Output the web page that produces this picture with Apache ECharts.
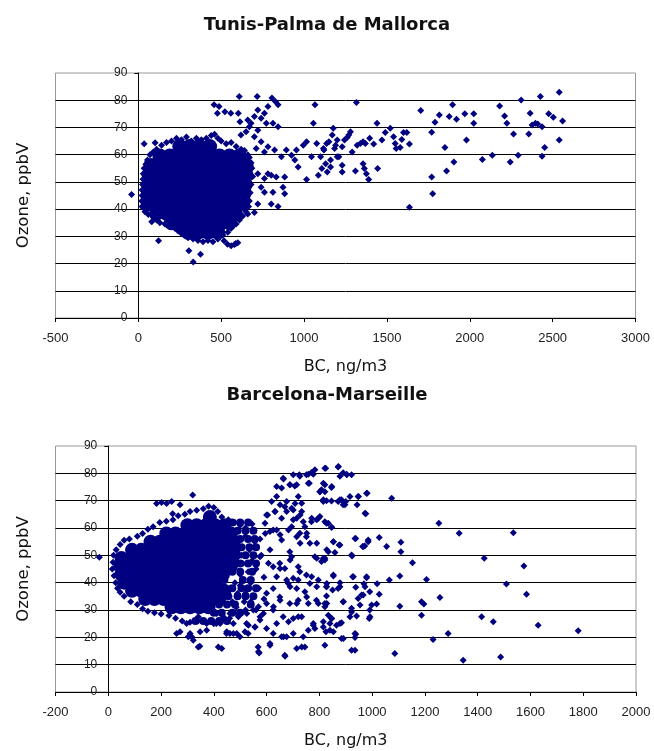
<!DOCTYPE html>
<html>
<head>
<meta charset="utf-8">
<script src="https://cdn.jsdelivr.net/npm/echarts@6/dist/echarts.min.js"></script>
<style>
  html, body { margin: 0; padding: 0; background: #fff; }
  #chart { width: 654px; height: 751px; }
</style>
</head>
<body>
<div id="chart"></div>
<script>
// Axis ranges [min, max, interval]
const topXRange = [-500, 3000, 500];
const bottomXRange = [-200, 2000, 200];
const ozoneRange = [0, 90, 10];

const titles = ['Tunis-Palma de Mallorca', 'Barcelona-Marseille'];
const xName = 'BC, ng/m3';
const yName = 'Ozone, ppbV';

// Tunis-Palma: dense core of the cloud (BC ng/m3, ozone ppbV)
const tunisCore = [
  [250, 63], [310, 63], [370, 63], [430, 63],
  [130, 59.5], [190, 59.5], [250, 59.5], [310, 59.5], [370, 59.5], [430, 59.5], [490, 59.5], [550, 59.5], [610, 59.5],
  [80, 56], [140, 56], [200, 56], [260, 56], [320, 56], [380, 56], [440, 56], [500, 56], [560, 56], [620, 56], [650, 56],
  [65, 52.5], [125, 52.5], [185, 52.5], [245, 52.5], [305, 52.5], [365, 52.5], [425, 52.5], [485, 52.5], [545, 52.5], [605, 52.5], [650, 52.5],
  [65, 49], [125, 49], [185, 49], [245, 49], [305, 49], [365, 49], [425, 49], [485, 49], [545, 49], [605, 49], [645, 49],
  [60, 45.5], [120, 45.5], [180, 45.5], [240, 45.5], [300, 45.5], [360, 45.5], [420, 45.5], [480, 45.5], [540, 45.5], [600, 45.5], [635, 45.5],
  [65, 42], [125, 42], [185, 42], [245, 42], [305, 42], [365, 42], [425, 42], [485, 42], [545, 42], [605, 42], [625, 42],
  [110, 38.5], [170, 38.5], [230, 38.5], [290, 38.5], [350, 38.5], [410, 38.5], [470, 38.5], [530, 38.5], [585, 38.5],
  [200, 35], [260, 35], [320, 35], [380, 35], [440, 35], [500, 35], [550, 35],
  [300, 31.5], [360, 31.5], [420, 31.5], [480, 31.5]
];

// Tunis-Palma: individual points
const tunisPoints = [
  // rim of the cloud
  [90, 61], [110, 62], [140, 63.5], [170, 64.5], [200, 65], [230, 66], [260, 65.5], [290, 66.5], [320, 65], [350, 66],
  [380, 65.5], [410, 66], [440, 67], [460, 67.5], [480, 66], [500, 65], [530, 64], [560, 64.5], [590, 63], [620, 62],
  [640, 61.5], [660, 60],
  [70, 60], [55, 58], [45, 56.5], [35, 55], [30, 53], [28, 51], [25, 49], [22, 47], [22, 45], [20, 43], [22, 41], [30, 40.5],
  [40, 39], [60, 38], [90, 37], [110, 36], [130, 35], [160, 34.5], [190, 33.5], [220, 33], [240, 32], [260, 31],
  [280, 30.5], [300, 29.5], [330, 29], [360, 28.5], [390, 28], [420, 28.5], [450, 28], [480, 29], [510, 30.5],
  [540, 31.5], [560, 33], [590, 34.5], [610, 36], [630, 37.5], [650, 39],
  [665, 41], [670, 43], [675, 46], [680, 49], [690, 52], [685, 55], [680, 57], [670, 59],
  // loose points near the cloud
  [538, 27.1], [560, 26.5], [580, 27], [600, 27.6], [35, 64], [101, 64.4], [55, 57.3], [81, 54.3], [-41, 45.4],
  [122, 28.4], [305, 24.7], [375, 23.4], [331, 20.6], [81, 35.4], [517, 28.4], [588, 27.4],
  // upper branch
  [457, 78.3], [487, 77.7], [477, 75.2], [522, 75.8], [558, 75.2], [609, 81.4], [603, 75.2], [613, 72.1], [660, 72.7],
  [717, 81.4], [670, 70.3], [680, 71.5], [700, 74], [721, 76.4], [741, 73.4], [761, 75.2], [782, 77.7], [806, 80.8],
  [827, 79.5], [843, 78.3], [812, 71.5], [843, 70.3], [772, 71.5], [721, 69], [650, 68.4], [619, 67.2], [700, 66.6],
  [741, 64.7], [711, 62.3], [761, 61], [782, 62.9], [822, 61.7], [863, 59.2], [893, 61.7], [924, 59.8], [954, 61.7],
  [944, 58], [964, 55.5], [1045, 59.2], [995, 63.5], [1056, 71.5], [1066, 78.3], [1015, 64.7], [1076, 64.1], [1117, 62.3],
  // right of the cloud, lower
  [721, 53], [761, 51.2], [782, 53], [802, 52.4], [832, 51.8], [883, 51.8], [741, 48], [761, 46.2], [873, 48],
  [883, 45.6], [812, 46.2], [843, 41], [802, 41.9], [721, 41.9], [660, 38.2], [700, 38.8], [619, 37], [578, 35.8],
  [558, 33.3], [1015, 50.9], [1086, 52.4], [1107, 54.9],
  // 1100 - 2600
  [1100, 59.2], [1120, 61.7], [1136, 64.1], [1150, 64.7], [1170, 67.2], [1176, 69.7], [1190, 63.5], [1184, 62.3],
  [1200, 65.4], [1210, 59.2], [1230, 62.9], [1244, 65.4], [1260, 66.3], [1270, 67.2], [1280, 68.4], [1290, 61],
  [1316, 79.2], [1320, 63.5], [1340, 64.1], [1356, 64.7], [1370, 64.1], [1396, 66], [1420, 63.9], [1440, 71.5],
  [1470, 65.4], [1490, 68.1], [1520, 69.7], [1540, 66.6], [1550, 64.1], [1556, 62.3], [1580, 62.6], [1600, 68.1],
  [1620, 68.1], [1636, 63.9], [1590, 65.6],
  [1130, 56.7], [1140, 53.6], [1160, 55.5], [1160, 58], [1200, 59.2], [1230, 56.1], [1230, 53.6], [1310, 54],
  [1356, 56.7], [1364, 54.9], [1376, 53], [1390, 50.9], [1444, 54.9], [1636, 40.7],
  [1704, 76.2], [1770, 68.2], [1790, 71.9], [1816, 74.6], [1850, 62.6], [1876, 74], [1896, 78.3], [1904, 57.3],
  [1860, 54], [1770, 51.8], [1776, 45.6], [1920, 73], [1970, 75], [1980, 65.4], [2024, 75], [2024, 71.5],
  [2076, 58.2], [2136, 59.8], [2180, 77.9], [2210, 74.2], [2224, 71.5], [2244, 57.3], [2264, 67.6], [2292, 59.8],
  [2310, 80.1], [2356, 67.6], [2364, 75.2], [2376, 70.9], [2396, 71.5], [2410, 71.3], [2426, 81.4], [2436, 70.3],
  [2436, 59.4], [2452, 62.6], [2476, 75], [2504, 73.7], [2540, 82.9], [2540, 65.4], [2560, 72.4]
];

// Barcelona-Marseille: dense core
const barcaCore = [
  [385, 64],
  [300, 61], [335, 61], [370, 61], [405, 61], [440, 61],
  [220, 58], [255, 58], [290, 58], [325, 58], [360, 58], [395, 58], [430, 58], [465, 58],
  [160, 55], [195, 55], [230, 55], [265, 55], [300, 55], [335, 55], [370, 55], [405, 55], [440, 55], [475, 55],
  [90, 52], [125, 52], [160, 52], [195, 52], [230, 52], [265, 52], [300, 52], [335, 52], [370, 52], [405, 52], [440, 52], [475, 52],
  [50, 49], [85, 49], [120, 49], [155, 49], [190, 49], [225, 49], [260, 49], [295, 49], [330, 49], [365, 49], [400, 49], [435, 49], [470, 49],
  [45, 46], [80, 46], [115, 46], [150, 46], [185, 46], [220, 46], [255, 46], [290, 46], [325, 46], [360, 46], [395, 46], [430, 46], [465, 46],
  [50, 43], [85, 43], [120, 43], [155, 43], [190, 43], [225, 43], [260, 43], [295, 43], [330, 43], [365, 43], [400, 43], [435, 43],
  [60, 40], [95, 40], [130, 40], [165, 40], [200, 40], [235, 40], [270, 40], [305, 40], [340, 40], [375, 40], [410, 40],
  [90, 37], [125, 37], [160, 37], [195, 37], [230, 37], [265, 37], [300, 37], [335, 37], [370, 37], [405, 37], [440, 37],
  [140, 34], [175, 34], [210, 34], [245, 34], [280, 34], [315, 34], [350, 34], [385, 34], [420, 34],
  [240, 31], [275, 31], [310, 31], [345, 31], [380, 31]
];

// Barcelona-Marseille: patchy right part of the cloud
const barcaFringe = [
  [470, 62], [500, 62], [530, 62],
  [490, 59], [520, 59], [550, 59],
  [500, 56], [530, 56], [555, 56],
  [505, 53], [535, 53], [560, 53],
  [490, 50], [520, 50], [550, 50],
  [500, 47], [530, 47], [560, 47],
  [470, 44], [500, 44], [545, 44],
  [440, 41], [510, 41], [540, 41],
  [470, 38], [505, 38], [530, 38], [560, 38],
  [455, 35], [490, 35], [520, 35], [550, 35],
  [420, 32], [450, 32], [480, 32], [540, 32],
  [400, 29], [430, 29], [470, 29], [500, 29],
  [330, 26], [360, 26], [390, 26], [420, 26], [450, 26]
];

// Barcelona-Marseille: individual points
const barcaPoints = [
  [-34, 49.3],
  [183, 69], [202, 69.3], [221, 69], [240, 69.7], [272, 68.5], [320, 72.1], [244, 65.2],
  // rim of the cloud
  [30, 52], [45, 54], [60, 55.5], [80, 56], [110, 57], [130, 58], [150, 59.5], [170, 60.5], [195, 62], [220, 62.5],
  [245, 63], [265, 64.5], [290, 65], [310, 66], [335, 66.5], [360, 67], [380, 68], [400, 67.5], [415, 66], [430, 64],
  [455, 63], [480, 62], [500, 61], [520, 60], [545, 61.5],
  [20, 50], [18, 47.5], [15, 45], [22, 42.5], [28, 40], [35, 38], [45, 36.5],
  [60, 35], [85, 33], [110, 32], [130, 30.5], [150, 29.5], [175, 29], [200, 28.5], [230, 28], [255, 27], [280, 26],
  [310, 25.5], [340, 26], [370, 25.5], [400, 25], [430, 26], [460, 27], [490, 28.5], [520, 30], [540, 33],
  [520, 36], [540, 40], [530, 44], [545, 48], [535, 52], [555, 55], [520, 57], [560, 45], [580, 50], [570, 38],
  [590, 42], [560, 30], [590, 34], [575, 56], [595, 58], [480, 40], [500, 43], [490, 36], [470, 33], [505, 50],
  [460, 38], [475, 46], [490, 53], [510, 47], [500, 39], [485, 31], [515, 33],
  // lower scatter under the cloud
  [259, 21.4], [303, 20.2], [347, 16.7], [417, 16.5], [572, 14.3], [499, 20.2], [530, 21.4], [461, 21.4], [316, 20.2],
  [272, 22], [373, 22.6], [410, 25.1], [474, 25.1], [524, 25.1], [448, 21.4], [341, 27.5], [373, 25.1],
  [297, 25.1], [367, 25.7], [398, 25.7], [424, 25.1], [449, 22], [487, 21.4], [518, 22], [531, 24.4], [556, 23.8],
  [575, 26.3], [411, 28.7], [436, 27.5], [461, 28.7], [493, 27.5], [525, 28.7], [550, 30], [569, 31.2],
  [310, 21.4], [348, 22], [322, 18.9], [341, 16.5], [430, 15.9], [474, 21.4],
  // 550 - 1030
  [638, 75.2], [664, 77.9], [689, 75.8], [714, 75.8], [724, 79.5], [758, 79.7], [777, 79.7], [762, 76.4],
  [824, 81.9], [872, 82.5], [904, 79.5], [821, 75.8], [847, 75.2], [802, 73.3], [815, 70.3], [878, 70.3],
  [897, 68.5], [948, 71.5], [979, 72.7], [973, 65.4], [619, 69.7], [632, 66], [651, 68.5], [676, 66], [695, 67.2],
  [708, 69], [701, 63], [727, 64.8], [739, 62.3], [771, 63.6], [790, 63], [834, 61.7], [847, 60.3], [604, 64.8],
  [613, 58.7], [638, 59.3], [651, 57.5], [683, 59.3], [714, 56.8], [727, 54.4], [752, 58.1], [790, 54.4],
  [828, 52], [853, 55], [878, 53.8], [935, 56.2], [966, 53.2], [985, 55.6], [922, 50.1], [815, 48.9], [790, 48.9],
  [720, 45.8], [689, 48.3], [651, 45.2], [613, 52], [607, 47.1], [575, 49.5], [638, 42.2], [676, 41], [720, 41],
  [771, 42.2], [790, 38.5], [828, 39.7], [853, 42.8], [878, 38.5], [929, 42.2], [979, 42.2], [973, 38.5],
  [960, 35.5], [752, 34.8], [796, 32.4], [828, 32.4], [891, 33], [922, 29.3], [992, 27.5], [714, 32.4], [689, 38.5],
  [651, 33.6], [626, 31.2], [600, 36.1], [588, 28.7], [638, 25.1], [683, 25.7], [720, 27.5], [758, 22.6],
  [777, 24.4], [815, 25.7], [847, 26.9], [840, 22.6], [878, 25.1], [891, 19.6], [935, 21.4], [935, 15.3],
  [821, 17.1], [733, 16.5], [664, 20.2], [613, 17.7], [569, 14.7], [670, 13.1], [657, 20.2],
  [663, 78.2], [701, 79.5], [726, 78.9], [751, 79.5], [770, 80.3], [783, 81.3], [758, 76.4], [657, 74.6], [688, 75.8],
  [707, 75.4], [638, 71.5], [676, 69.7], [720, 71.5], [733, 69.1], [733, 66], [802, 73.3], [815, 69.7], [632, 66],
  [669, 67.8], [701, 66.6], [714, 63.6], [657, 63.6], [695, 60.5], [745, 60.5], [770, 62.3], [796, 63.6], [827, 61.7],
  [600, 64.8], [594, 61.7], [625, 59.3], [657, 55.6], [726, 58.1], [751, 56.8], [764, 54.4], [783, 49.5], [821, 48.3],
  [688, 51.3], [695, 49.5], [650, 47.1], [625, 45.8], [669, 45.2], [726, 44], [751, 42.8], [701, 41.6], [682, 39.7],
  [714, 37.9], [745, 36.7], [764, 39.7], [796, 41], [827, 38.5], [625, 37.9], [650, 34.8], [688, 32.4], [720, 33.6],
  [758, 32.4], [789, 33.6], [821, 31.2], [600, 32.4], [625, 30], [663, 27.5], [701, 26.9], [733, 27.5], [777, 25.1],
  [815, 23.8], [834, 28.1], [575, 27.5], [556, 23.8], [600, 23.2], [625, 21.4], [676, 20.2], [701, 21.4], [739, 20.2],
  [783, 23.2], [840, 25.1], [568, 16.5], [613, 17.1], [669, 13.4], [714, 15.9], [745, 16.5],
  // 800 - 1800
  [821, 81.9], [871, 82.3], [878, 78.9], [890, 80.2], [903, 79.7], [922, 79.5], [815, 76.4], [846, 74.8], [821, 73.3],
  [808, 74], [827, 70], [846, 69.9], [871, 69.7], [884, 70.3], [890, 68.5], [900, 69.7], [916, 71.5], [947, 71.5],
  [943, 68.5], [981, 72.7], [1074, 70.9], [976, 65.2], [802, 64.2], [821, 62.3], [846, 60.3], [853, 55], [875, 53.8],
  [834, 51.3], [859, 51], [821, 48.9], [808, 47.7], [924, 49.8], [938, 56.2], [964, 53.2], [972, 53.4], [985, 55],
  [1027, 56.5], [1055, 53.2], [1109, 54.8], [1109, 51.3], [1153, 47.3], [853, 42.4], [827, 38.5], [850, 37.3],
  [871, 37.9], [878, 40], [926, 42.2], [938, 38.3], [969, 39.6], [979, 41.8], [991, 36.7], [1019, 39.6], [1027, 35.8],
  [947, 34.2], [966, 35.5], [954, 31.8], [890, 33], [827, 35.1], [821, 32.4], [1105, 42.4], [1105, 31.4], [1017, 32.2],
  [998, 31.8], [991, 30], [989, 26.9], [922, 30.6], [916, 27.5], [941, 27.8], [846, 26.9], [865, 24.4], [884, 25.3],
  [825, 22], [853, 22], [884, 19.6], [938, 21.1], [935, 19.9], [922, 15.3], [1065, 41], [1206, 41.2],
  [1257, 34.6], [1187, 33], [1196, 32.2], [1187, 28.1], [1288, 21.4], [1231, 19.2], [1086, 14.1], [1345, 11.6],
  [1487, 12.8], [1253, 61.7], [1330, 58.1], [1535, 58.3], [1425, 48.9], [1575, 46.1], [1509, 39.5], [1585, 35.8],
  [1415, 27.5], [1459, 25.7], [1629, 24.4], [1781, 22.4]
];

const navy = '#000080';
const font = '"Liberation Sans", Arial, sans-serif';
const wideFont = '"DejaVu Sans", "Liberation Sans", sans-serif';
const chart = echarts.init(document.getElementById('chart'));

// plain numbers, no thousands separator
const plain = (v) => String(v);

function xAxisFor(gridIndex, range) {
  return {
    type: 'value',
    gridIndex: gridIndex,
    min: range[0],
    max: range[1],
    interval: range[2],
    name: xName,
    nameLocation: 'middle',
    nameGap: 41,
    nameTextStyle: { fontFamily: wideFont, fontSize: 16, color: '#111' },
    axisLine: { onZero: false, lineStyle: { color: '#000', width: 1 } },
    axisTick: { show: true, length: 4, lineStyle: { color: '#000' } },
    axisLabel: { fontFamily: font, fontSize: 13, color: '#222', margin: 14, formatter: plain },
    splitLine: { show: false }
  };
}

// y axis sits on x = 0, moved in from the grid edge with offset
function yAxisFor(gridIndex, range, offset, nameGap) {
  return {
    type: 'value',
    gridIndex: gridIndex,
    min: range[0],
    max: range[1],
    interval: range[2],
    offset: offset,
    name: yName,
    nameLocation: 'middle',
    nameGap: nameGap,
    nameMoveOverlap: false,
    nameTextStyle: { fontFamily: wideFont, fontSize: 16.5, color: '#111' },
    axisLine: { onZero: false, lineStyle: { color: '#000', width: 1 } },
    axisTick: { show: true, length: 4, lineStyle: { color: '#000' } },
    axisLabel: { fontFamily: font, fontSize: 12, color: '#222', margin: 11, formatter: plain },
    splitLine: { show: true, showMaxLine: false, lineStyle: { color: '#000', width: 1 } }
  };
}

function scatter(index, data, symbol, size) {
  return {
    type: 'scatter',
    xAxisIndex: index,
    yAxisIndex: index,
    data: data,
    symbol: symbol,
    symbolSize: size,
    itemStyle: { color: navy, opacity: 1 },
    silent: true
  };
}

const topGridW = 580;
const bottomGridW = 580.5;
// distance from the grid's left edge to x = 0
const topZero = topGridW * (0 - topXRange[0]) / (topXRange[1] - topXRange[0]);
const bottomZero = bottomGridW * (0 - bottomXRange[0]) / (bottomXRange[1] - bottomXRange[0]);

const option = {
  animation: false,
  backgroundColor: '#fff',
  title: titles.map((t, i) => ({
    text: t,
    left: 'center',
    top: i === 0 ? 11 : 381,
    textStyle: { fontFamily: wideFont, fontSize: 18, fontWeight: 'bold', color: '#111' }
  })),
  grid: [
    { left: 55.5, top: 73, width: topGridW, height: 245, show: true, borderColor: '#999', borderWidth: 1,
      containLabel: false, outerBoundsMode: 'none' },
    { left: 55.5, top: 446, width: bottomGridW, height: 246, show: true, borderColor: '#999', borderWidth: 1,
      containLabel: false, outerBoundsMode: 'none' }
  ],
  xAxis: [xAxisFor(0, topXRange), xAxisFor(1, bottomXRange)],
  yAxis: [yAxisFor(0, ozoneRange, -topZero, 106), yAxisFor(1, ozoneRange, -bottomZero, 76)],
  series: [
    scatter(0, tunisCore, 'circle', 15),
    scatter(0, tunisPoints, 'diamond', 7),
    scatter(1, barcaCore, 'circle', 14),
    scatter(1, barcaFringe, 'circle', 8),
    scatter(1, barcaPoints, 'diamond', 7)
  ]
};

chart.setOption(option);
window.addEventListener('resize', chart.resize);
</script>
</body>
</html>
